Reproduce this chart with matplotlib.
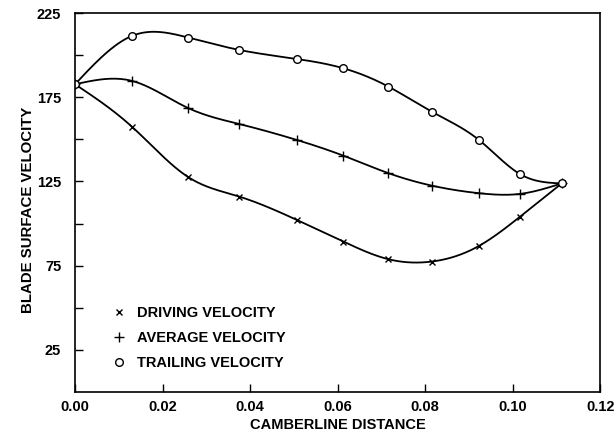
import matplotlib
matplotlib.use("Agg")
import matplotlib.pyplot as plt
import numpy as np

plt.rcParams['font.family'] = ['Liberation Sans', 'DejaVu Sans']
plt.rcParams['font.weight'] = 'bold'

# Data
dist = [0.0, 0.0130, 0.0259, 0.0375, 0.0507, 0.0613, 0.0716, 0.0815, 0.0923, 0.1017, 0.1112]
driving = [182.7, 157.5, 127.5, 116.0, 102.1, 89.3, 78.8, 77.4, 86.7, 104.1, 123.8]
average = [182.7, 184.7, 168.5, 159.1, 149.6, 140.3, 129.9, 122.5, 118.0, 117.6, 123.8]
trailing = [182.7, 211.4, 210.4, 203.1, 197.7, 192.2, 181.3, 166.4, 149.6, 129.3, 123.8]

labels = ["DRIVING VELOCITY", "AVERAGE VELOCITY", "TRAILING VELOCITY"]
xticks = [0.00, 0.02, 0.04, 0.06, 0.08, 0.10, 0.12]
yticks = [25, 75, 125, 175, 225]


def spline(x, y, n=300):
    # natural cubic spline through the points, just for drawing the smooth line
    x = np.asarray(x, float)
    y = np.asarray(y, float)
    k = len(x)
    h = np.diff(x)
    A = np.zeros((k, k))
    b = np.zeros(k)
    A[0, 0] = A[-1, -1] = 1
    for i in range(1, k - 1):
        A[i, i - 1] = h[i - 1]
        A[i, i] = 2 * (h[i - 1] + h[i])
        A[i, i + 1] = h[i]
        b[i] = 6 * ((y[i + 1] - y[i]) / h[i] - (y[i] - y[i - 1]) / h[i - 1])
    m = np.linalg.solve(A, b)
    xs = np.linspace(x[0], x[-1], n)
    idx = np.clip(np.searchsorted(x, xs) - 1, 0, k - 2)
    x0, x1 = x[idx], x[idx + 1]
    hh = x1 - x0
    t0, t1 = x1 - xs, xs - x0
    ys = (m[idx] * t0**3 + m[idx + 1] * t1**3) / (6 * hh) \
        + (y[idx] / hh - m[idx] * hh / 6) * t0 \
        + (y[idx + 1] / hh - m[idx + 1] * hh / 6) * t1
    return xs, ys


fig = plt.figure(figsize=(6.15, 4.34), dpi=100)
ax = fig.add_axes([0.122, 0.097, 0.854, 0.873])

styles = [("x", 5, "black"), ("+", 7, "black"), ("o", 5.5, "white")]
for vals, (mk, ms, fc), lab in zip([driving, average, trailing], styles, labels):
    xs, ys = spline(dist, vals)
    ax.plot(xs, ys, color="black", lw=1.3)
    ax.plot(dist, vals, ls="none", marker=mk, ms=ms, mfc=fc, mec="black", mew=1.0, label=lab)

ax.set_xlim(0, 0.12)
ax.set_ylim(0, 225)
ax.set_xticks(xticks)
ax.set_xticklabels([f"{t:.2f}" for t in xticks])
ax.set_yticks(yticks)
ax.set_yticks([50, 100, 150, 200], minor=True)
ax.tick_params(which="both", direction="in", length=6, width=1, labelsize=10.5)
ax.tick_params(axis="y", pad=10)
ax.tick_params(axis="x", pad=6)
for s in ax.spines.values():
    s.set_linewidth(1.2)

ax.set_xlabel("CAMBERLINE DISTANCE", fontsize=10.5, fontweight="bold", labelpad=3)
ax.set_ylabel("BLADE SURFACE VELOCITY", fontsize=10.8, fontweight="bold")
ax.yaxis.set_label_coords(-0.077, 0.48)

leg = ax.legend(loc="upper left", bbox_to_anchor=(0.070, 0.227), frameon=False,
                fontsize=10.5, handlelength=1.0, handletextpad=0.7, labelspacing=0.75,
                borderpad=0, borderaxespad=0)

fig.savefig("out.png", dpi=100)
